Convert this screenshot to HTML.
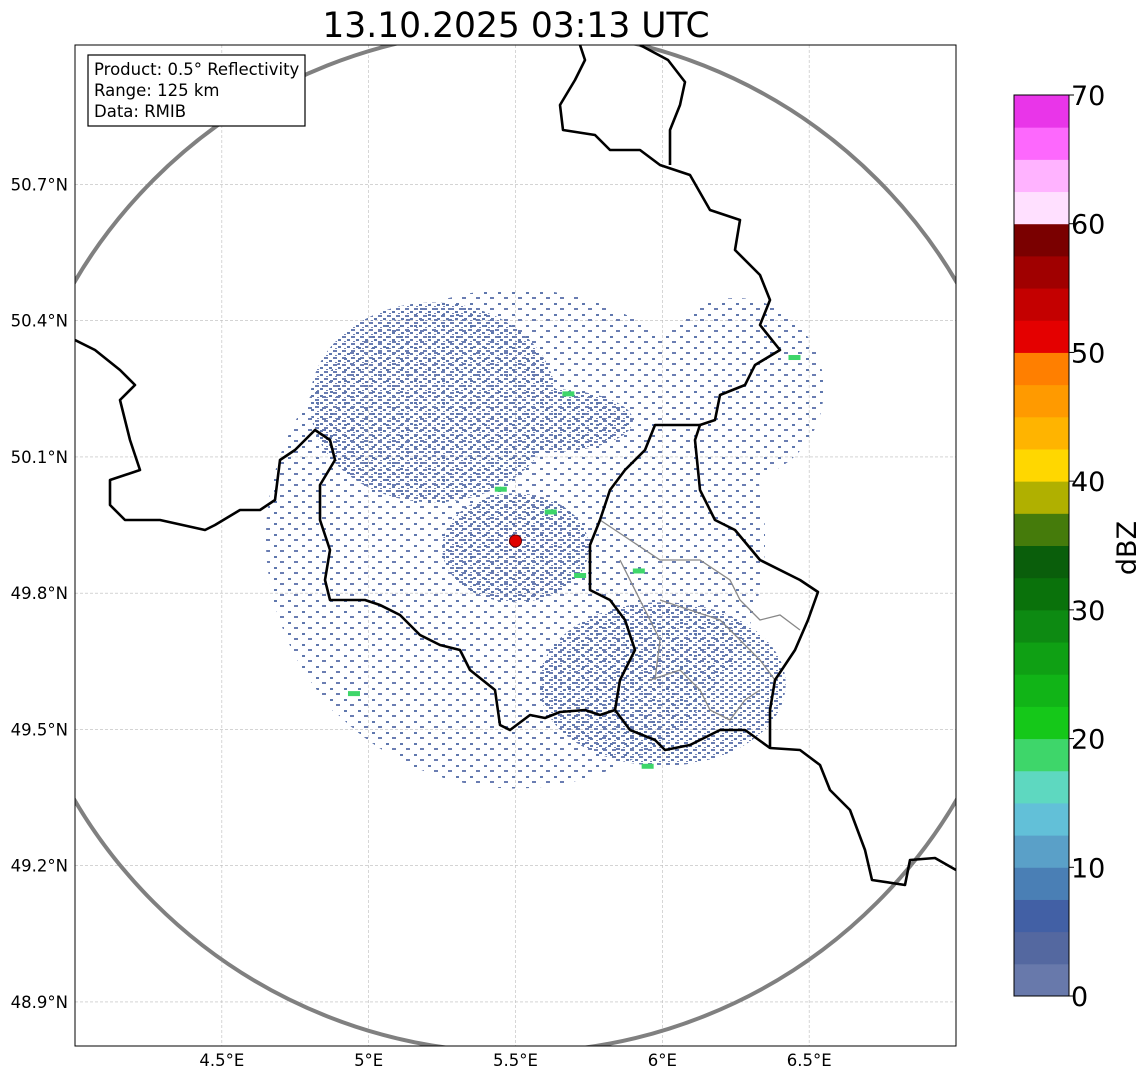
<!DOCTYPE html>
<html><head><meta charset="utf-8"><style>
body{margin:0;background:#fff;font-family:"DejaVu Sans","Liberation Sans",sans-serif;}
svg{display:block}
</style></head><body>
<svg id="fig" width="1148" height="1081" viewBox="0 0 1148 1081">
<defs>
<pattern id="echo" width="9" height="7" patternUnits="userSpaceOnUse">
<rect x="0" y="0" width="4" height="2" fill="#6a7db2"/>
<rect x="5" y="3" width="3" height="2" fill="#5f77ad"/>
<rect x="2" y="5" width="2" height="1" fill="#7585b5"/>
</pattern>
<pattern id="echo2" width="14" height="11" patternUnits="userSpaceOnUse">
<rect x="0" y="0" width="4" height="2" fill="#6a7db2"/>
<rect x="8" y="6" width="3" height="2" fill="#5f77ad"/>
</pattern>
<clipPath id="plotclip"><rect x="75" y="45" width="881" height="1001"/></clipPath>
</defs>
<text x="516" y="37" text-anchor="middle" font-size="34.5" fill="#000">13.10.2025 03:13 UTC</text>
<g id="grid"></g>
<g id="echoes" clip-path="url(#plotclip)"></g>
<g clip-path="url(#plotclip)">
<circle id="rangering" fill="none" stroke="#808080" stroke-width="4"/>
<g fill="none" stroke="#888" stroke-width="1.3">
<polyline points="600,520 630,540 660,560 700,560 730,580 740,600 760,620 780,615 800,630"/>
<polyline points="660,600 690,610 720,620 740,640 760,660 775,680"/>
<polyline points="650,680 680,670 700,690 710,710 730,720 745,700 760,690"/>
<polyline points="620,560 640,600 660,640 655,680"/>
</g>
<g fill="none" stroke="#000" stroke-width="2.6" stroke-linejoin="round">
<polyline points="580,45 585,60 575,80 560,105 563,130 595,135 610,150 640,150 660,165 690,175 710,210 740,220 735,250 760,275 770,300 760,325 780,350 755,365 745,385 720,395 715,420 700,425 695,440 700,490 715,520 735,530 760,560 800,580 818,592 808,620 795,650 775,680 770,710 770,748 800,750 820,765 830,790 850,810 865,850 872,880 905,885 910,860 935,858 956,870"/>
<polyline points="640,45 668,60 685,82 680,105 670,130 670,165"/>
<polyline points="700,425 680,425 655,425 645,450 625,470 610,490 600,520 590,545 590,590 610,600 625,620 635,650 620,680 615,710 600,715 585,710 560,712 545,718 530,715 510,730 500,725 495,690 470,670 460,650 440,645 420,635 400,615 380,605 365,600 330,600 325,580 330,550 320,520 320,485 335,460 330,440 315,430 295,450 280,460 275,500 260,510 240,510 215,525 205,530 160,520 125,520 110,505 110,480 140,470 130,440 120,400 135,385 120,370 95,350 75,340"/>
<polyline points="615,710 630,730 655,740 665,750 690,745 720,730 745,730 770,748"/>
</g>
</g>
<circle id="radar" r="6" fill="#e00000" stroke="#600" stroke-width="1"/>
<rect x="75" y="45" width="881" height="1001" fill="none" stroke="#000" stroke-width="1"/>
<g id="ticks" font-size="16.5" fill="#000"></g>
<g>
<rect x="88" y="55" width="217" height="71" fill="#fff" stroke="#000" stroke-width="1.2"/>
<text x="94" y="75" font-size="16.5">Product: 0.5° Reflectivity</text>
<text x="94" y="96" font-size="16.5">Range: 125 km</text>
<text x="94" y="117" font-size="16.5">Data: RMIB</text>
</g>
<g id="cbar"></g>
<text x="1136" y="548" font-size="27" text-anchor="middle" transform="rotate(-90 1136 548)">dBZ</text>
</svg>
<script>
const NS="http://www.w3.org/2000/svg";
const lonTicks=[4.5,5,5.5,6,6.5];
const latTicks=[48.9,49.2,49.5,49.8,50.1,50.4,50.7];
const cbarColors=["#6879ab","#5468a0","#4260a5","#4a7fb5","#5aa0c8","#62c0d8","#5ed8c0","#3ed66a","#15c819","#11b417","#0fa014","#0d8a12","#0a720b","#0a5e0b","#457b0b","#b0b000","#ffd700","#ffb400","#ff9a00","#ff7f00","#e40000","#c40000","#a00000","#7a0000","#ffe0ff","#ffb3ff","#fd68fd","#e935e9"];
const cbarTicks=[0,10,20,30,40,50,60,70];
const radarLon=5.5, radarLat=49.915, rangeKm=125;
const echoLons=[5.22,5.5,6.0,6.25,5.5,5.05,5.85,5.6];
const echoLats=[50.22,49.92,49.6,50.25,49.9,49.65,49.85,50.18];
const echoRx=[0.42,0.85,0.42,0.3,0.25,0.25,0.35,0.3];
const echoRy=[0.22,0.55,0.18,0.2,0.12,0.15,0.15,0.07];
const echoDense=[1,0,1,0,1,0,0,1];
const greenLons=[5.45,5.68,5.72,5.95,5.62,6.45,5.92,4.95];
const greenLats=[50.03,50.24,49.84,49.42,49.98,50.32,49.85,49.58];

const X0=75,X1=956,Y0=45,Y1=1046,LON0=4.0,LON1=7.0,LAT0=48.803,LAT1=51.007;
const x=lon=>X0+(lon-LON0)/(LON1-LON0)*(X1-X0);
const y=lat=>Y0+(LAT1-lat)/(LAT1-LAT0)*(Y1-Y0);
const grid=document.getElementById('grid'),ticks=document.getElementById('ticks');
function mk(tag,attrs,parent){const e=document.createElementNS(NS,tag);for(const k in attrs)e.setAttribute(k,attrs[k]);parent.appendChild(e);return e;}
lonTicks.forEach(v=>{
 const l=mk('line',{x1:x(v),x2:x(v),y1:Y0,y2:Y1,stroke:'#bbb','stroke-width':0.6,'stroke-dasharray':'3,2'},grid);
 
 
 const t=mk('text',{x:x(v),y:1066,'text-anchor':'middle'},ticks);t.textContent=v+'°E';
 
 
});
latTicks.forEach(v=>{
 const l=mk('line',{x1:X0,x2:X1,y1:y(v),y2:y(v),stroke:'#bbb','stroke-width':0.6,'stroke-dasharray':'3,2'},grid);
 
 
 const t=mk('text',{x:68,y:y(v)+6,'text-anchor':'end'},ticks);t.textContent=v.toFixed(1)+'°N';
 
 
});
const ring=document.getElementById('rangering');
ring.setAttribute('cx',x(radarLon));ring.setAttribute('cy',y(radarLat));
const rx=rangeKm/(111.32*Math.cos(radarLat*Math.PI/180))/(LON1-LON0)*(X1-X0);
const ry=rangeKm/111.2/(LAT1-LAT0)*(Y1-Y0);
ring.setAttribute('r',(rx+ry)/2);
const rd=document.getElementById('radar');rd.setAttribute('cx',x(radarLon));rd.setAttribute('cy',y(radarLat));
const ech=document.getElementById('echoes');
echoLons.forEach((lo,i)=>{
 const w=echoRx[i]/(LON1-LON0)*(X1-X0),h=echoRy[i]/(LAT1-LAT0)*(Y1-Y0);
 const e=mk('ellipse',{cx:x(lo),cy:y(echoLats[i]),rx:w,ry:h,fill:echoDense[i]?'url(#echo)':'url(#echo2)'},ech);
 
 
});
greenLons.forEach((lo,i)=>{
 const e=mk('rect',{x:x(lo)-6,y:y(greenLats[i])-2,width:12,height:5,fill:'#3ed66a'},ech);
 
 
});
const cb=document.getElementById('cbar');
const CX=1014,CW=55,CT=95,CB=996,VMAX=70;
const cy=v=>CB-v/VMAX*(CB-CT);
const step=VMAX/cbarColors.length;
cbarColors.forEach((c,i)=>{
 const r=mk('rect',{x:CX,y:cy((i+1)*step),width:CW,height:cy(i*step)-cy((i+1)*step)+0.5,fill:c},cb);
 
 
});
mk('rect',{x:CX,y:CT,width:CW,height:CB-CT,fill:'none',stroke:'#000','stroke-width':1},cb);
cbarTicks.forEach(v=>{
 mk('line',{x1:CX+CW,x2:CX+CW+5,y1:cy(v),y2:cy(v),stroke:'#000'},cb);
 const t=mk('text',{x:CX+CW+2,y:cy(v)+10,'font-size':27},cb);t.textContent=v;
 
 
});
</script>
</body></html>
